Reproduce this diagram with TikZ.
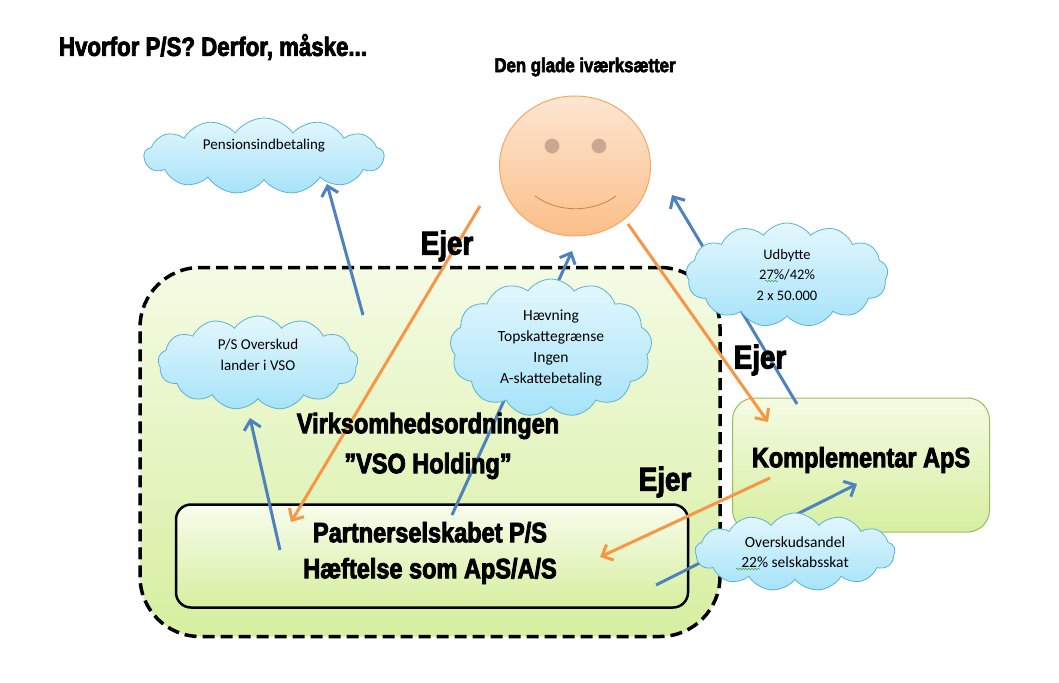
\documentclass[tikz,border=0pt]{standalone}
\usepackage{fontspec}
\usepackage{xcolor}
\usepackage{tikz}
\usetikzlibrary{shapes.symbols,shapes.geometric,arrows.meta,decorations.pathmorphing}
\setmainfont{Carlito}
\newfontfamily\impact{Liberation Sans Bold}[FakeStretch=0.84,FakeBold=3]
\definecolor{arrblue}{HTML}{4F81BD}
\definecolor{arrorange}{HTML}{F79646}
\definecolor{cloudtop}{HTML}{E4F7FD}
\definecolor{cloudbot}{HTML}{A6E3F9}
\definecolor{cloudline}{HTML}{5AB2D3}
\definecolor{greentop}{HTML}{F4FBE4}
\definecolor{greenbot}{HTML}{D6EFA0}
\definecolor{greenline}{HTML}{9BBB59}
\definecolor{facetop}{HTML}{FDE6D2}
\definecolor{facebot}{HTML}{FBBF88}
\definecolor{eyecol}{HTML}{C9A891}
\definecolor{spellgreen}{HTML}{3CB043}

\begin{document}
\begin{tikzpicture}[x=1pt,y=-1pt,
  cloud node/.style={cloud,cloud puffs=13,cloud puff arc=110,cloud ignores aspect,draw=cloudline,line width=0.8,
    top color=cloudtop,bottom color=cloudbot,inner sep=0pt,align=center,font=\fontsize{15}{21}\selectfont},
  big text/.style={font=\impact\fontsize{28}{40}\selectfont,align=center},
  ejer text/.style={font=\impact\fontsize{33}{36}\selectfont},
  blue arrow/.style={draw=arrblue,line width=3,-{Straight Barb[length=9pt,width=17pt,line width=3pt]}},
  orange arrow/.style={draw=arrorange,line width=3,-{Straight Barb[length=9pt,width=17pt,line width=3pt]}},
  squiggle/.style={draw=spellgreen,line width=0.6,decorate,decoration={snake,amplitude=0.8pt,segment length=3pt}}]
  \useasboundingbox (0,0) rectangle (1059,682);

  % boxes
  \node[draw,line width=3.5,dash pattern=on 12pt off 6pt,rounded corners=60,minimum width=580,minimum height=369,
    top color=greentop,bottom color=greenbot] (vso) at (430,452) {};
  \node[draw=greenline,line width=1,rounded corners=22,minimum width=257,minimum height=134,
    top color=greentop,bottom color=greenbot] (kompl) at (861,465) {};
  \node[draw,line width=2.5,rounded corners=15,minimum width=512,minimum height=103,
    top color=greentop!70!white,bottom color=greenbot] (ps) at (432,556) {};

  % smiley
  \node[ellipse,draw=arrorange!85,line width=1,minimum width=151,minimum height=140,
    top color=facetop,bottom color=facebot] (face) at (575,166) {};
  \node[circle,draw=arrorange!50,fill=eyecol,minimum size=15,inner sep=0pt] (eyeL) at (552,146) {};
  \node[circle,draw=arrorange!50,fill=eyecol,minimum size=15,inner sep=0pt] (eyeR) at (599,146) {};
  \coordinate (smileL) at (535,196);
  \coordinate (smileR) at (616,196);
  \draw[arrorange!85!black,line width=0.8] (smileL) .. controls (558,213) and (593,213) .. (smileR);

  % free ends of the arrows
  \coordinate (a1) at (363,315);  \coordinate (b1) at (327,184);
  \coordinate (a2) at (480,206);  \coordinate (b2) at (291,522);
  \coordinate (a3) at (452,515);  \coordinate (b3) at (572,251);
  \coordinate (a4) at (280,550);  \coordinate (b4) at (250,418);
  \coordinate (a5) at (628,224);  \coordinate (b5) at (768,422);
  \coordinate (a6) at (797,404);  \coordinate (b6) at (672,195);
  \coordinate (a7) at (770,478);  \coordinate (b7) at (600,557);
  \coordinate (a8) at (656,585);  \coordinate (b8) at (857,484);

  \path
    (a1) edge[blue arrow] (b1)
    (a2) edge[orange arrow] (b2)
    (a3) edge[blue arrow] (b3)
    (a4) edge[blue arrow] (b4)
    (a5) edge[orange arrow] (b5)
    (a6) edge[blue arrow] (b6)
    (a7) edge[orange arrow] (b7)
    (a8) edge[blue arrow] (b8);

  % clouds
  \node[cloud node,minimum width=240,minimum height=76] (pens) at (264,156) {Pensionsindbetaling\\[2pt]};
  \node[cloud node,minimum width=200,minimum height=94] (overskud) at (258,363) {P/S Overskud\\lander i VSO\\[-4pt]};
  \node[cloud node,minimum width=202,minimum height=138,font=\fontsize{15.5}{21}\selectfont] (haev) at (551,348)
    {Hævning\\Topskattegrænse\\Ingen\\A-skattebetaling};
  \node[cloud node,minimum width=202,minimum height=104,font=\fontsize{14.5}{20.5}\selectfont] (udbytte) at (787,275)
    {Udbytte\\27\%/42\%\\2 x 50.000};
  \node[cloud node,minimum width=200,minimum height=78,font=\fontsize{15.5}{20}\selectfont] (andel) at (795,552)
    {Overskudsandel\\22\% selskabsskat};
  \coordinate (sq1) at (736,569);  \coordinate (sq2) at (760,569);
  \coordinate (sq3) at (765,281);  \coordinate (sq4) at (778,281);
  \path[squiggle] (sq1) -- (sq2);
  \path[squiggle] (sq3) -- (sq4);

  % texts
  \node[font=\impact\fontsize{26.5}{30}\selectfont] (title) at (213,47) {Hvorfor P/S? Derfor, måske...};
  \node[font=\impact\fontsize{20}{24}\selectfont] (glad) at (585,67) {Den glade iværksætter};
  \node[big text] (vsotext) at (428,446) {Virksomhedsordningen\\”VSO Holding”};
  \node[big text,font=\impact\fontsize{28}{36}\selectfont] (pstext) at (430,553) {Partnerselskabet P/S\\Hæftelse som ApS/A/S};
  \node[big text] (kompltext) at (861,460) {Komplementar ApS};
  \node[ejer text] (ejer1) at (447,246) {Ejer};
  \node[ejer text] (ejer2) at (760,360) {Ejer};
  \node[ejer text] (ejer3) at (665,482) {Ejer};
\end{tikzpicture}
\end{document}
